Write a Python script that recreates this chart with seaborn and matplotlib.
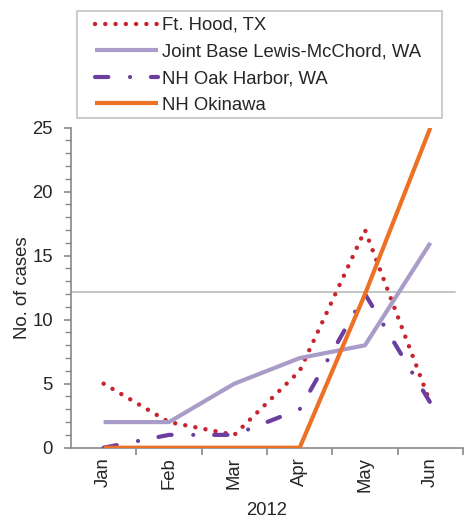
import numpy as np
import pandas as pd
import seaborn as sns
import matplotlib.pyplot as plt
from matplotlib.patches import Rectangle
from matplotlib.ticker import MultipleLocator, FixedLocator

# Data
months = ['Jan', 'Feb', 'Mar', 'Apr', 'May', 'Jun']
ft_hood = [5, 2, 1, 6, 17, 3.5]
lewis_mcchord = [2, 2, 5, 7, 8, 16]
oak_harbor = [0, 1, 1, 3, 12, 3.5]
okinawa = [0, 0, 0, 0, 12, 25]
series_names = ['Ft. Hood, TX', 'Joint Base Lewis-McChord, WA',
                'NH Oak Harbor, WA', 'NH Okinawa']
threshold = 12.2

df = pd.DataFrame({
    'month_idx': list(range(len(months))) * 4,
    'cases': ft_hood + lewis_mcchord + oak_harbor + okinawa,
    'site': np.repeat(series_names, len(months)),
})

sns.set_style('white')
plt.rcParams['font.family'] = ['Liberation Sans', 'DejaVu Sans']
fs = 13.3

fig = plt.figure(figsize=(4.73, 5.21), dpi=100)
ax = fig.add_axes([0.150, 0.1407, 0.829, 0.6143])

styles = {
    'Ft. Hood, TX': dict(color='#C8232F', lw=3.2, ls=(0, (0.01, 2.3))),
    'Joint Base Lewis-McChord, WA': dict(color='#A99CC9', lw=3.0, ls='-'),
    'NH Oak Harbor, WA': dict(color='#6B3FA0', lw=3.0,
                              ls=(0, (3.2, 5.2, 0.01, 5.0))),
    'NH Okinawa': dict(color='#EC7125', lw=3.0, ls='-'),
}

for name in series_names:
    st = styles[name]
    sub = df[df['site'] == name]
    sns.lineplot(data=sub, x='month_idx', y='cases', ax=ax, label=name,
                 color=st['color'], linewidth=st['lw'], linestyle=st['ls'],
                 dash_capstyle='round', solid_capstyle='butt', zorder=3)

ax.axhline(threshold, xmin=0, xmax=0.98, color='#C4C4C4', lw=1.4, zorder=2)

ax.set_xlim(-0.5, 5.5)
ax.set_ylim(0, 25)

# major x ticks on category boundaries, labels at centres
ax.xaxis.set_major_locator(FixedLocator(np.arange(0.5, 6, 1)))
ax.xaxis.set_minor_locator(FixedLocator(np.arange(0, 6, 1)))
ax.set_xticklabels([], minor=False)
ax.set_xticklabels(months, minor=True, rotation=90, fontsize=fs)
ax.tick_params(axis='x', which='major', length=5, width=1.2, color='#898989',
               direction='out', bottom=True)
ax.tick_params(axis='x', which='minor', length=0, pad=7)

ax.yaxis.set_major_locator(MultipleLocator(5))
ax.yaxis.set_minor_locator(MultipleLocator(1))
ax.tick_params(axis='y', which='major', length=5, width=1.2, color='#898989',
               direction='out', left=True, labelsize=fs, pad=8)
ax.tick_params(axis='y', which='minor', length=4, width=1.0, color='#898989',
               direction='out', left=True)

for side in ['top', 'right']:
    ax.spines[side].set_visible(False)
for side in ['left', 'bottom']:
    ax.spines[side].set_color('#898989')
    ax.spines[side].set_linewidth(1.2)

ax.set_xlabel('2012', fontsize=fs, labelpad=7)
ax.set_ylabel('No. of cases', fontsize=fs, labelpad=1)

# legend frame drawn separately so the box can be wider than the entries
fig.patches.append(Rectangle((77 / 473, 1 - 118 / 521), 365 / 473, 107 / 521,
                             transform=fig.transFigure, fill=False,
                             edgecolor='#C8C8C8', lw=1.3))
leg = ax.legend(loc='upper left', bbox_to_anchor=(95 / 473, 1 - 17 / 521),
                bbox_transform=fig.transFigure, fontsize=fs, frameon=False,
                handlelength=3.4, handletextpad=0.2, labelspacing=0.52,
                borderaxespad=0, borderpad=0)

fig.savefig('out.png', dpi=100)
